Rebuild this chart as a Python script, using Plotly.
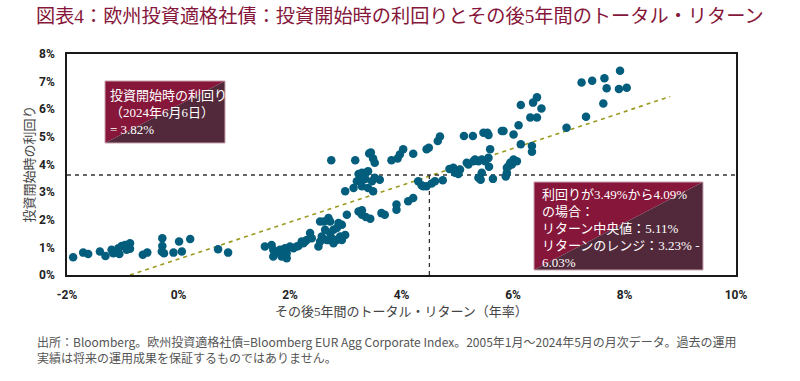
import plotly.graph_objects as go

# ---------------- data (% units) ----------------
ret = [
    -1.89, -1.71, -1.62, -1.41, -1.31, -1.20, -1.14, -1.08, -1.06, -1.02, -0.96, -0.87, -0.87,
    -0.64, -0.56, -0.29, -0.29, -0.30, -0.26, -0.09, 0.01, 0.06, 0.21, 0.71, 0.89, -1.17, -0.93,
    1.55, 1.67, 1.70, 1.73, 1.70, 1.85, 1.88, 1.94, 1.82, 1.91, 2.00, 2.06, 1.94, 2.12, 2.15,
    2.21, 2.24, 2.27, 2.30, 2.36, 2.39, 2.51, 2.54, 2.57, 2.66, 2.75, 2.72, 2.63, 2.78, 2.84,
    2.93, 2.87, 2.69, 2.72, 2.61, 2.54, 2.90, 2.99, 2.93, 2.84, 2.78, 2.69,
    3.02, 3.23, 3.29, 3.36, 3.29, 3.44, 3.64, 3.70, 3.91, 3.91, 4.12, 4.21,
    2.74, 3.17, 3.42, 3.23, 3.29, 3.36, 3.40, 3.20, 3.26, 3.35, 2.99, 3.14, 3.29, 3.40, 3.47,
    3.52, 3.61, 3.45, 3.49, 3.52, 3.49, 3.82, 3.93, 3.97, 4.03, 4.21, 4.45, 4.49, 4.65, 4.69,
    5.12, 5.28, 5.47, 5.54, 5.56, 5.80, 5.83, 6.01, 6.10, 6.14, 6.31, 6.43, 6.36, 6.43, 6.51,
    6.96, 7.31, 7.62, 7.23, 7.42, 7.64, 7.92, 7.68, 7.90, 8.04,
    4.30, 4.36, 4.45, 4.54, 4.60, 4.74, 4.39, 4.86, 4.93, 4.99, 5.05, 4.96, 5.02, 5.17, 5.20,
    5.32, 5.38, 5.29, 5.44, 5.50, 5.56, 5.59, 5.57, 5.38, 5.44, 5.42, 5.64, 5.89, 5.87, 5.89,
    5.92, 5.98, 5.95, 6.01, 6.07, 6.14, 6.34, 6.34,
]
yld = [
    0.64, 0.81, 0.76, 0.85, 0.69, 0.91, 0.85, 0.97, 0.76, 1.05, 1.09, 1.15, 0.95,
    0.73, 0.81, 1.33, 1.05, 0.85, 0.79, 0.81, 1.21, 0.85, 1.30, 0.93, 0.81, 0.79, 0.91,
    1.03, 1.09, 0.91, 0.79, 0.67, 0.67, 0.73, 0.61, 0.91, 0.97, 1.03, 0.97, 0.79, 1.03, 1.05,
    1.21, 1.15, 1.21, 1.27, 1.52, 1.33, 1.03, 1.21, 1.39, 1.27, 1.33, 1.52, 1.64, 1.64, 1.70,
    1.82, 1.88, 2.06, 1.94, 1.94, 1.94, 1.39, 1.45, 1.27, 1.27, 1.15, 1.27,
    2.18, 2.30, 2.18, 2.10, 2.34, 2.04, 2.24, 2.18, 2.55, 2.36, 2.67, 2.79,
    4.15, 4.15, 4.40, 3.66, 3.70, 3.70, 3.76, 3.39, 3.45, 3.48, 3.03, 3.15, 3.21, 3.15, 3.39,
    3.52, 3.45, 4.43, 4.22, 4.06, 3.03, 4.15, 4.22, 4.36, 4.55, 4.39, 4.55, 4.61, 4.85, 5.01,
    5.03, 5.03, 5.15, 5.15, 5.07, 5.21, 5.21, 5.09, 5.42, 6.15, 5.70, 5.70, 6.24, 6.43, 6.03,
    5.33, 5.73, 6.21, 6.97, 7.03, 7.12, 7.39, 6.76, 6.73, 6.78,
    3.39, 3.25, 3.21, 3.31, 3.39, 3.43, 3.21, 3.84, 3.88, 3.76, 3.82, 3.70, 3.66, 4.06, 4.00,
    4.18, 4.12, 4.12, 4.18, 4.12, 4.24, 4.55, 3.92, 3.52, 3.70, 3.45, 3.48, 3.70, 3.57, 3.88,
    3.94, 4.00, 4.06, 4.18, 4.12, 4.73, 4.67, 4.46,
]
trend_ret = [-0.87, 8.82]
trend_yld = [0.0, 6.46]
current_yield = 3.62      # horizontal reference line
marker_return = 4.50      # vertical reference line
x_ticks = [-2, 0, 2, 4, 6, 8, 10]
y_ticks = [0, 1, 2, 3, 4, 5, 6, 7, 8]

title_text = "図表4：欧州投資適格社債：投資開始時の利回りとその後5年間のトータル・リターン"
x_title = "その後5年間のトータル・リターン（年率）"
y_title = "投資開始時の利回り"
box1_text = "投資開始時の利回り<br>（2024年6月6日）<br>= 3.82%"
box2_text = "利回りが3.49%から4.09%<br>の場合：<br>リターン中央値：5.11%<br>リターンのレンジ：3.23% -<br>6.03%"
note_lines = [
    "出所：Bloomberg。欧州投資適格社債=Bloomberg EUR Agg Corporate Index。2005年1月～2024年5月の月次データ。過去の運用",
    "実績は将来の運用成果を保証するものではありません。",
]

# ---------------- styles ----------------
TEAL = "#035d7c"
CRIMSON = "#86163a"
DARK = "#52293a"
OLIVE = "#9a9a1e"
SERIF = "Liberation Serif, Noto Sans CJK JP, serif"
SANS = "Noto Sans CJK JP, sans-serif"

fig = go.Figure()
fig.add_trace(go.Scatter(x=trend_ret, y=trend_yld, mode="lines",
                         line=dict(color=OLIVE, width=1.6, dash="4px,4px"),
                         hoverinfo="skip", showlegend=False))
fig.add_trace(go.Scatter(x=[x_ticks[0], x_ticks[-1]], y=[current_yield, current_yield], mode="lines",
                         line=dict(color="#333333", width=1.3, dash="4px,4px"),
                         hoverinfo="skip", showlegend=False))
fig.add_trace(go.Scatter(x=[marker_return, marker_return], y=[y_ticks[0], current_yield], mode="lines",
                         line=dict(color="#333333", width=1.3, dash="4px,4px"),
                         hoverinfo="skip", showlegend=False))
fig.add_trace(go.Scatter(x=ret, y=yld, mode="markers",
                         marker=dict(color=TEAL, size=8.5, line=dict(width=0)),
                         showlegend=False))

tickfont = dict(family="Liberation Sans Narrow, Roboto, sans-serif", size=12, color="#222222", weight="bold")
fig.update_xaxes(range=[x_ticks[0], x_ticks[-1]], tickvals=x_ticks,
                 ticktext=[f"{v}%" for v in x_ticks], showgrid=False, zeroline=False,
                 showline=True, mirror=True, linecolor="#1a1a1a", linewidth=1.6,
                 ticks="", tickfont=tickfont, ticklabelstandoff=8)
fig.update_yaxes(range=[y_ticks[0], y_ticks[-1]], tickvals=y_ticks,
                 ticktext=[f"{v}%" for v in y_ticks], showgrid=False, zeroline=False,
                 showline=True, mirror=True, linecolor="#1a1a1a", linewidth=1.6,
                 ticks="", tickfont=tickfont, ticklabelstandoff=8)

W, H = 800, 381
L, R, T, B = 67, 64, 54, 106
pw, ph = W - L - R, H - T - B


def px(xp):
    return (xp - L) / pw


def py(yp):
    return (H - B - yp) / ph


def box(x0, y0, x1, y1):
    X0, X1, Y0, Y1 = px(x0), px(x1), py(y0), py(y1)
    return [
        dict(type="path", xref="paper", yref="paper",
             path=f"M {X0},{Y0} L {X1},{Y0} L {X0},{Y1} Z",
             fillcolor=CRIMSON, line=dict(width=0), layer="above"),
        dict(type="path", xref="paper", yref="paper",
             path=f"M {X1},{Y0} L {X1},{Y1} L {X0},{Y1} Z",
             fillcolor=DARK, line=dict(width=0), layer="above"),
        dict(type="rect", xref="paper", yref="paper", x0=X0, x1=X1, y0=Y1, y1=Y0,
             line=dict(color="#c9a3b0", width=1), layer="above"),
    ]


shapes = box(105, 81, 225, 143) + box(534, 182, 703, 270)

annotations = [
    dict(text=title_text, xref="paper", yref="paper", x=px(34), y=py(17), xanchor="left",
         yanchor="middle", showarrow=False, font=dict(family=SERIF, size=19.2, color=CRIMSON)),
    dict(text=box1_text, xref="paper", yref="paper", x=px(108), y=py(86), xanchor="left",
         yanchor="top", align="left", showarrow=False,
         font=dict(family=SERIF, size=13, color="white")),
    dict(text=box2_text, xref="paper", yref="paper", x=px(540), y=py(185), xanchor="left",
         yanchor="top", align="left", showarrow=False,
         font=dict(family=SERIF, size=13, color="white")),
    dict(text=x_title, xref="paper", yref="paper", x=0.5, y=py(311), xanchor="center",
         yanchor="middle", showarrow=False, font=dict(family=SERIF, size=13, color="#444444")),
    dict(text=y_title, xref="paper", yref="paper", x=px(29), y=0.5, xanchor="center",
         yanchor="middle", textangle=-90, showarrow=False,
         font=dict(family=SERIF, size=13, color="#444444")),
]
for i, line in enumerate(note_lines):
    annotations.append(dict(text=line, xref="paper", yref="paper", x=px(35), y=py(341 + 16 * i),
                            xanchor="left", yanchor="middle", showarrow=False,
                            font=dict(family=SANS, size=12, color="#555555")))

fig.update_layout(width=W, height=H, margin=dict(l=L, r=R, t=T, b=B),
                  paper_bgcolor="white", plot_bgcolor="white",
                  shapes=shapes, annotations=annotations, showlegend=False)

fig.write_html("out.html", config={"displayModeBar": False},
               post_script="document.body.style.margin='0';document.body.style.overflow='hidden';")
